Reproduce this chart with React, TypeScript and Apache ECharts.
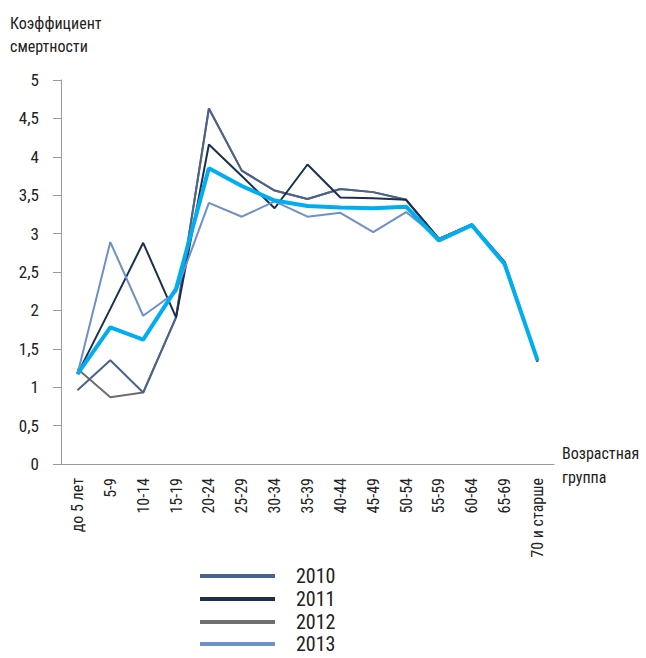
import React, { useEffect, useRef } from "react";
import * as echarts from "echarts";

const categories = ["до 5 лет", "5-9", "10-14", "15-19", "20-24", "25-29", "30-34", "35-39", "40-44", "45-49", "50-54", "55-59", "60-64", "65-69", "70 и старше"];
const s2010 = [0.96, 1.35, 0.93, 1.91, 4.63, 3.82, 3.56, 3.45, 3.58, 3.54, 3.44, 2.93, 3.12, 2.63, 1.33];
const s2011 = [1.17, 2.02, 2.88, 1.91, 4.16, 3.75, 3.33, 3.9, 3.47, 3.46, 3.44, 2.93, 3.12, 2.62, 1.34];
const s2012 = [1.24, 0.87, 0.93, 1.91, 4.63, 3.82, 3.56, 3.45, 3.58, 3.54, 3.44, 2.93, 3.12, 2.63, 1.33];
const s2013 = [1.17, 2.89, 1.93, 2.24, 3.4, 3.22, 3.42, 3.22, 3.27, 3.02, 3.28, 2.93, 3.11, 2.61, 1.35];
const sAvg = [1.17, 1.78, 1.62, 2.28, 3.85, 3.62, 3.43, 3.36, 3.34, 3.33, 3.35, 2.91, 3.11, 2.6, 1.35];
const legendNames = ["2010", "2011", "2012", "2013"];

const FONT = "'Roboto Condensed', 'DejaVu Sans Condensed', 'Liberation Sans Narrow', Roboto, sans-serif";

export default function App() {
  const ref = useRef<HTMLDivElement>(null);
  useEffect(() => {
    document.body.style.margin = "0";
    const chart = echarts.init(ref.current!, null, { renderer: "svg" });
    const line = (name: string, data: number[], color: string, width: number, z: number) => ({
      name,
      type: "line",
      data,
      symbol: "none",
      z,
      lineStyle: { color, width },
      itemStyle: { color },
    });
    const legendTops = [576, 599, 622, 644];
    chart.setOption({
      animation: false,
      textStyle: { fontFamily: FONT },
      grid: { left: 61, right: 92, top: 80, bottom: 194 },
      title: {
        text: "Коэффициент\nсмертности",
        left: 10,
        top: 12,
        padding: 0,
        textStyle: { fontFamily: FONT, fontSize: 16, fontWeight: "normal", color: "#222", lineHeight: 23 },
      },
      graphic: [
        {
          type: "text",
          left: 562,
          top: 441,
          style: { text: "Возрастная\nгруппа", font: `16px ${FONT}`, fill: "#222", lineHeight: 24 },
        },
      ],
      legend: legendNames.map((n, i) => ({
        data: [n],
        left: 200,
        top: legendTops[i] - 10,
        padding: 0,
        itemWidth: 75,
        itemHeight: 4,
        icon: "rect",
        textStyle: { fontFamily: FONT, fontSize: 20, lineHeight: 20, color: "#222", padding: [0, 0, 0, 16] },
      })),
      xAxis: {
        type: "category",
        data: categories,
        boundaryGap: true,
        axisLine: { lineStyle: { color: "#9a9a9a", width: 1 } },
        axisTick: { length: 5, lineStyle: { color: "#9a9a9a" } },
        axisLabel: { rotate: 90, interval: 0, fontSize: 16, color: "#222", margin: 14 },
      },
      yAxis: {
        type: "value",
        min: 0,
        max: 5,
        interval: 0.5,
        splitLine: { show: false },
        axisLine: { show: true, lineStyle: { color: "#9a9a9a", width: 1 } },
        axisTick: { show: true, length: 8, lineStyle: { color: "#9a9a9a" } },
        axisLabel: {
          fontSize: 17,
          color: "#222",
          margin: 22,
          formatter: (v: number) => String(v).replace(".", ","),
        },
      },
      series: [
        line("2012", s2012, "#6e6e6e", 2, 2),
        line("2010", s2010, "#4b628f", 2, 3),
        line("2011", s2011, "#1b2f50", 2, 4),
        line("2013", s2013, "#6d8fca", 2, 5),
        line("Среднее", sAvg, "#00aeef", 4, 6),
      ],
    });
    return () => chart.dispose();
  }, []);
  return <div ref={ref} style={{ width: 646, height: 658 }} />;
}
